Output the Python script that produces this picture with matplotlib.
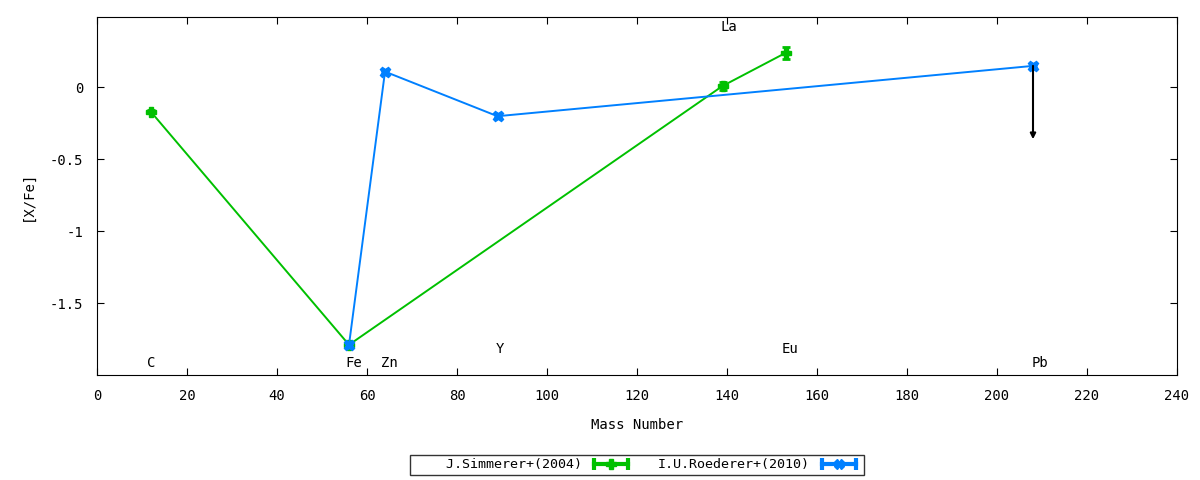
import matplotlib
matplotlib.use("Agg")
import matplotlib.pyplot as plt
from matplotlib.lines import Line2D
from matplotlib.legend_handler import HandlerLine2D, HandlerTuple

# Data
sim_mass = [12, 56, 139, 153]
sim_xfe = [-0.17, -1.79, 0.01, 0.24]
sim_err = [0.01, 0.01, 0.03, 0.04]

roe_mass = [56, 64, 89, 208]
roe_xfe = [-1.79, 0.11, -0.20, 0.15]
roe_err = [0.01, 0.01, 0.01, 0.01]

ul_mass = [208]
ul_from = [0.15]
ul_to = [-0.36]

elem_names = ["C", "Fe", "Zn", "Y", "La", "Eu", "Pb"]
elem_x = [12, 57, 65, 89.5, 140.5, 154, 209.5]
elem_y = [-1.92, -1.92, -1.92, -1.82, 0.42, -1.82, -1.92]

xticks = list(range(0, 241, 20))
yticks = [0, -0.5, -1, -1.5]
ytick_labels = ["0", "-0.5", "-1", "-1.5"]

plt.rcParams['font.family'] = ['DejaVu Sans Mono']
plt.rcParams['font.size'] = 10

fig = plt.figure(figsize=(12, 4.8), dpi=100)
ax = fig.add_axes([97/1200, 1 - 375/480, (1177-97)/1200, (375-17)/480])

green = "#00c000"
blue = "#0080ff"
labels = ["    J.Simmerer+(2004)", "I.U.Roederer+(2010)"]

ax.errorbar(sim_mass, sim_xfe, yerr=sim_err, color=green, lw=1.4, marker='P',
            ms=7.5, capsize=3, capthick=2, elinewidth=2)
ax.errorbar(roe_mass, roe_xfe, yerr=roe_err, color=blue, lw=1.4, marker='X',
            ms=7.5, capsize=3, capthick=2, elinewidth=2)

for xm, y0, y1 in zip(ul_mass, ul_from, ul_to):
    ax.annotate("", xy=(xm, y1), xytext=(xm, y0),
                arrowprops=dict(arrowstyle='-|>', color='black', lw=1.5,
                                mutation_scale=8, shrinkA=0, shrinkB=0))

for name, xx, yy in zip(elem_names, elem_x, elem_y):
    ax.text(xx, yy, name, ha='center', va='center', fontsize=10)

ax.set_xlim(0, 240)
ax.set_ylim(-2.0, 0.49)
ax.set_xticks(xticks)
ax.set_yticks(yticks)
ax.set_yticklabels(ytick_labels)
ax.tick_params(direction='in', top=True, right=True, length=5, pad=10)
ax.set_xlabel("Mass Number", labelpad=11)
ax.set_ylabel("[X/Fe]", labelpad=11)

# legend handles in gnuplot errorbar style
handles = []
hmap = {}
for col, mk in [(green, 'P'), (blue, 'X')]:
    ends = Line2D([], [], color=col, lw=3, marker='|', ms=9, mew=3)
    mid = Line2D([], [], color=col, lw=0, marker=mk, ms=7)
    hmap[ends] = HandlerLine2D(numpoints=2)
    hmap[mid] = HandlerLine2D(numpoints=1)
    handles.append((ends, mid))
hmap[tuple] = HandlerTuple(ndivide=1, pad=0)

leg = ax.legend(handles, labels, handler_map=hmap, fontsize=9.6,
                loc='upper center', bbox_to_anchor=(0.5, -0.2235), ncol=2,
                frameon=True, fancybox=False, edgecolor='black',
                markerfirst=False, handlelength=3.2, columnspacing=1.9,
                borderpad=0.25, handletextpad=0.6, borderaxespad=0)
leg.get_frame().set_linewidth(1.0)

fig.savefig("out.png", dpi=100)
